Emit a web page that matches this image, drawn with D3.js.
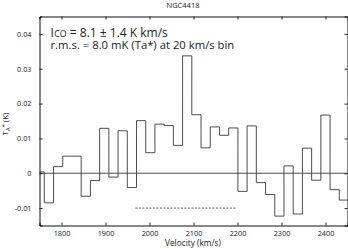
<!DOCTYPE html>
<html><head><meta charset="utf-8">
<script src="https://cdn.jsdelivr.net/npm/d3@7"></script>
<style>
html,body{margin:0;padding:0;background:#fff;}
svg{display:block;}
text{font-family:"Open Sans","Liberation Sans",sans-serif;fill:#222;}
</style></head>
<body><svg id="c" width="348" height="249"></svg>
<script>
const title = "NGC4418";
const binCenters = [1750.4,1771.4,1792.4,1813.3,1834.3,1855.2,1876.2,1897.1,1918.1,1939.0,1960.0,1980.9,2001.9,2022.8,2043.8,2064.7,2085.7,2106.6,2127.6,2148.5,2169.5,2190.4,2211.4,2232.3,2253.3,2274.2,2295.2,2316.1,2337.1,2358.0,2379.0,2399.9,2420.9,2441.8];
const binWidth = 20.95;
const tA = [0.0004,-0.0085,0.0019,0.0049,0.0049,-0.0066,-0.0021,0.0129,-0.0011,0.0122,-0.0041,0.0151,0.0059,0.0141,0.0137,0.0080,0.0337,0.0168,0.0073,0.0133,0.0109,0.0130,-0.0052,0.0136,-0.0027,-0.0061,-0.0123,0.0021,-0.0117,0.0072,-0.0020,0.0167,-0.0047,-0.0077];
const xTicks = [1800,1900,2000,2100,2200,2300,2400];
const yTicks = [-0.01,0,0.01,0.02,0.03,0.04];
const yTickLabels = ["-0.01","0","0.01","0.02","0.03","0.04"];
const lineRange = [1968, 2199];
const lineLevel = [-0.01];

const svg = d3.select("#c");
const L=39.5, R=347.5, T=16.5, B=225.5;
const x = d3.scaleLinear().domain([1750,2450]).range([L,R]);
const y = d3.scaleLinear().domain([-0.015,0.045]).range([B,T]);

svg.append("defs").append("clipPath").attr("id","clip")
  .append("rect").attr("x",L).attr("y",T).attr("width",R-L).attr("height",B-T);

// zero line
svg.append("line").attr("x1",L).attr("x2",R).attr("y1",y(0)).attr("y2",y(0))
  .attr("stroke","#222").attr("stroke-width",0.8);

// histogram
const pts=[];
binCenters.forEach((c,i)=>{pts.push([c-binWidth/2,tA[i]]);pts.push([c+binWidth/2,tA[i]]);});
svg.append("path").attr("clip-path","url(#clip)")
  .attr("d",d3.line().x(d=>x(d[0])).y(d=>y(d[1]))(pts))
  .attr("fill","none").attr("stroke","#3a3a3a").attr("stroke-width",0.9);

// dashed line
svg.append("line").attr("x1",x(lineRange[0])).attr("x2",x(lineRange[1]))
  .attr("y1",y(lineLevel[0])).attr("y2",y(lineLevel[0]))
  .attr("stroke","#333").attr("stroke-width",0.8).attr("stroke-dasharray","2,1.5");

// axes with inward ticks
const tl=3;
const gb=svg.append("g").attr("transform",`translate(0,${B})`).call(d3.axisBottom(x).tickValues(xTicks).tickSize(-tl).tickPadding(5).tickFormat(d3.format("d")));
const gt=svg.append("g").attr("transform",`translate(0,${T})`).call(d3.axisTop(x).tickValues(xTicks).tickSize(-tl).tickFormat(""));
const gl=svg.append("g").attr("transform",`translate(${L},0)`).call(d3.axisLeft(y).tickValues(yTicks).tickSize(-tl).tickPadding(8).tickFormat((d,i)=>yTickLabels[i]));
const gr=svg.append("g").attr("transform",`translate(${R},0)`).call(d3.axisRight(y).tickValues(yTicks).tickSize(-tl).tickFormat(""));
[gb,gt,gl,gr].forEach(g=>{
  g.select(".domain").attr("stroke","#111").attr("stroke-width",1);
  g.selectAll(".tick line").attr("stroke","#111").attr("stroke-width",0.9);
  g.selectAll("text").style("font-family","'Open Sans','Liberation Sans',sans-serif").attr("font-size",7.3).attr("fill","#222");
});

// title
svg.append("text").attr("x",183).attr("y",8).attr("text-anchor","middle").attr("font-size",7.5).text(title);

// x label
svg.append("text").attr("x",193).attr("y",245.5).attr("text-anchor","middle").attr("font-size",8.3).text("Velocity (km/s)");

// y label
const yl=svg.append("text").attr("transform","translate(8,124) rotate(-90)").attr("text-anchor","middle").attr("font-size",8);
yl.append("tspan").text("T");
yl.append("tspan").attr("font-size",5.5).attr("dy",1.5).text("A");
yl.append("tspan").attr("font-size",6).attr("dy",-4).text("*");
yl.append("tspan").attr("dy",2.5).text(" (K)");

// annotation
const a1=svg.append("text").attr("x",50.5).attr("y",36.5).attr("font-size",11);
a1.append("tspan").text("I");
a1.append("tspan").attr("font-size",8).attr("dx",0.5).text("CO");
a1.append("tspan").text(" = 8.1 \u00B1 1.4 K km/s");
const a2=svg.append("text").attr("x",50.5).attr("y",48.5).attr("font-size",11)
  .text("r.m.s. = 8.0 mK (Ta*) at 20 km/s bin");
// fit widths
function fit(t,w){const n=t.node();const cw=n.getComputedTextLength();const fs=+t.attr("font-size");
  const k=w/cw; t.attr("font-size",fs*k); t.selectAll("tspan").each(function(){const s=d3.select(this);if(s.attr("font-size"))s.attr("font-size",+s.attr("font-size")*k);});}
fit(a1,117);
fit(a2,184);
</script></body></html>
